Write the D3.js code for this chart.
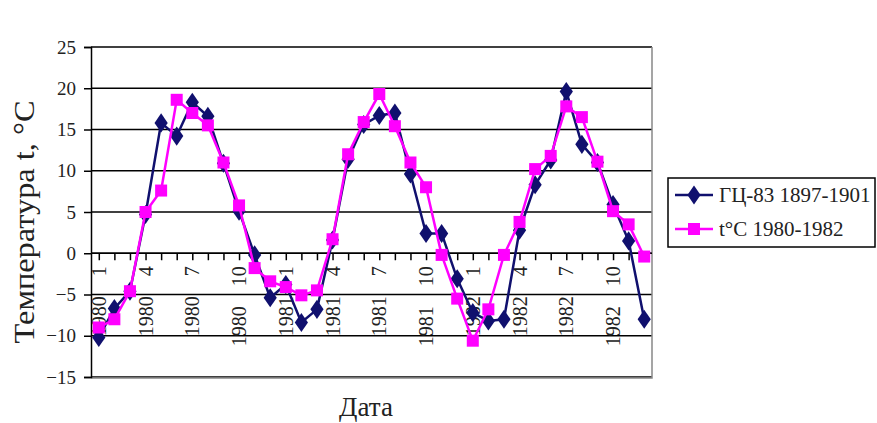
<!DOCTYPE html>
<meta charset="utf-8">
<style>
body { margin: 0; background: #fff; }
</style>
<body>
<script src="https://cdnjs.cloudflare.com/ajax/libs/d3/7.8.5/d3.min.js"></script>
<script>

// months Jan 1980 .. Dec 1982
var dates = ["1980 1","1980 2","1980 3","1980 4","1980 5","1980 6","1980 7","1980 8","1980 9","1980 10","1980 11","1980 12",
             "1981 1","1981 2","1981 3","1981 4","1981 5","1981 6","1981 7","1981 8","1981 9","1981 10","1981 11","1981 12",
             "1982 1","1982 2","1982 3","1982 4","1982 5","1982 6","1982 7","1982 8","1982 9","1982 10","1982 11","1982 12"];

var gc83 = [-10.2,-6.7,-4.6,4.7,15.8,14.2,18.3,16.6,10.9,5.1,-0.2,-5.4,
            -3.8,-8.4,-6.8,1.6,11.4,15.6,16.7,17.0,9.6,2.4,2.4,-3.1,
            -7.2,-8.2,-8.0,2.8,8.3,11.3,19.6,13.2,11.0,5.9,1.5,-8.0];

var tC = [-9.0,-8.0,-4.6,5.0,7.6,18.6,17.0,15.5,11.0,5.8,-1.8,-3.4,
          -4.1,-5.1,-4.5,1.7,12.0,15.9,19.3,15.4,11.0,8.0,-0.2,-5.5,
          -10.6,-6.8,-0.2,3.8,10.2,11.8,17.8,16.5,11.1,5.1,3.5,-0.4];

var tickLabels = ["1980 1","1980 4","1980 7","1980 10","1981 1","1981 4","1981 7","1981 10","1982 1","1982 4","1982 7","1982 10"];
var yTicks = [-15,-10,-5,0,5,10,15,20,25];

var seriesNames = ["ГЦ-83 1897-1901", "t°C 1980-1982"];
var seriesColors = ["#10106e", "#ff00ff"];

var serif = "'Liberation Serif', 'Times New Roman', serif";

var W = 877, H = 423;
var pLeft = 91, pRight = 652, pTop = 47, pBottom = 377;

var svg = d3.select("body").append("svg")
    .attr("width", W)
    .attr("height", H);

var x = d3.scalePoint()
    .domain(dates)
    .range([pLeft, pRight])
    .padding(0.5);

var y = d3.scaleLinear()
    .domain([-15, 25])
    .range([pBottom, pTop]);

// gridlines
svg.append("g").selectAll("line")
    .data(yTicks)
  .enter().append("line")
    .attr("x1", pLeft).attr("x2", pRight)
    .attr("y1", function(d) { return y(d); })
    .attr("y2", function(d) { return y(d); })
    .attr("stroke", "#000")
    .attr("stroke-width", 1.5);

// plot border right + bottom
svg.append("path")
    .attr("d", "M" + pRight + "," + pTop + "V" + (pBottom + 1) + "H" + pLeft)
    .attr("fill", "none")
    .attr("stroke", "#888")
    .attr("stroke-width", 1.5);

// y axis
var yAxis = svg.append("g")
    .attr("transform", "translate(" + pLeft + ",0)")
    .call(d3.axisLeft(y).tickValues(yTicks).tickSize(7).tickPadding(8));
yAxis.attr("font-family", serif).attr("font-size", 19);
yAxis.select(".domain").attr("stroke", "#000").attr("stroke-width", 1.5);
yAxis.selectAll(".tick line").attr("stroke", "#000").attr("stroke-width", 1.5);
yAxis.selectAll("text").attr("fill", "#222");

// x axis at zero
var xAxis = svg.append("g")
    .attr("transform", "translate(0," + y(0) + ")")
    .call(d3.axisBottom(x).tickSize(7).tickFormat(""));
xAxis.select(".domain").attr("d", "M" + pLeft + ",0H" + pRight).attr("stroke", "#000").attr("stroke-width", 1.5);
xAxis.selectAll(".tick line").attr("stroke", "#000").attr("stroke-width", 1.5);

svg.append("g")
    .attr("font-family", serif)
    .attr("font-size", 20)
  .selectAll("text")
    .data(tickLabels)
  .enter().append("text")
    .attr("transform", function(d) { return "translate(" + (x(d) + 7) + "," + (y(0) + 13) + ")rotate(-90)"; })
    .attr("text-anchor", "end")
    .attr("fill", "#222")
    .text(function(d) { var p = d.split(" "); return p[0] + "\u00a0\u00a0\u00a0\u00a0" + p[1]; });

// series
var line = d3.line()
    .x(function(d, i) { return x(dates[i]); })
    .y(function(d) { return y(d); });

var diamond = d3.symbol().type(d3.symbolDiamond).size(105);

svg.append("path")
    .datum(gc83)
    .attr("d", line)
    .attr("fill", "none")
    .attr("stroke", seriesColors[0])
    .attr("stroke-width", 2.5);
svg.append("g").selectAll("path")
    .data(gc83)
  .enter().append("path")
    .attr("d", diamond)
    .attr("transform", function(d, i) { return "translate(" + x(dates[i]) + "," + y(d) + ")scale(1.2,1)"; })
    .attr("fill", seriesColors[0]);

svg.append("path")
    .datum(tC)
    .attr("d", line)
    .attr("fill", "none")
    .attr("stroke", seriesColors[1])
    .attr("stroke-width", 2.5);
svg.append("g").selectAll("rect")
    .data(tC)
  .enter().append("rect")
    .attr("x", function(d, i) { return x(dates[i]) - 6; })
    .attr("y", function(d) { return y(d) - 6; })
    .attr("width", 12)
    .attr("height", 12)
    .attr("fill", seriesColors[1]);

// axis titles
svg.append("text")
    .attr("text-anchor", "middle")
    .attr("transform", "translate(34,222)rotate(-90)")
    .attr("font-family", serif)
    .attr("font-size", 29)
    .attr("fill", "#222")
    .attr("textLength", 243)
    .attr("lengthAdjust", "spacingAndGlyphs")
    .text("Температура t, °C");

svg.append("text")
    .attr("text-anchor", "middle")
    .attr("x", 366)
    .attr("y", 416)
    .attr("font-family", serif)
    .attr("font-size", 27)
    .attr("fill", "#222")
    .text("Дата");

// legend
var lg = svg.append("g");
lg.append("rect")
    .attr("x", 668).attr("y", 178)
    .attr("width", 207).attr("height", 69)
    .attr("fill", "#fff")
    .attr("stroke", "#000")
    .attr("stroke-width", 1.5);

var item = lg.selectAll(".item")
    .data(seriesNames)
  .enter().append("g")
    .attr("transform", function(d, i) { return "translate(0," + (195 + i * 34) + ")"; });

item.append("line")
    .attr("x1", 675).attr("x2", 713)
    .attr("stroke", function(d, i) { return seriesColors[i]; })
    .attr("stroke-width", 2.5);
item.append("path")
    .attr("d", function(d, i) { return i === 0 ? diamond() : "M-6,-6h12v12h-12z"; })
    .attr("transform", function(d, i) { return "translate(694,0)" + (i === 0 ? "scale(1.2,1)" : ""); })
    .attr("fill", function(d, i) { return seriesColors[i]; });
item.append("text")
    .attr("x", 719)
    .attr("dy", "0.35em")
    .attr("font-family", serif)
    .attr("font-size", 21)
    .attr("fill", "#222")
    .text(function(d) { return d; });

</script>
